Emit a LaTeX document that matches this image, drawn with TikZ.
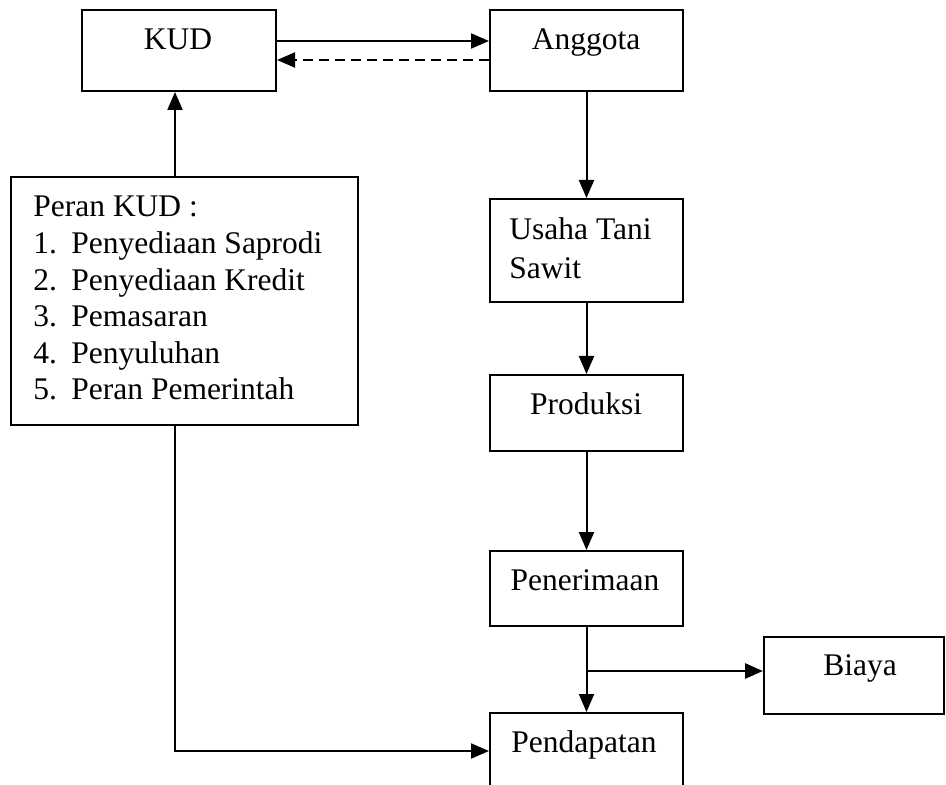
\documentclass[tikz,border=0pt]{standalone}
\usepackage{fontspec}
\setmainfont{Liberation Serif}
\usetikzlibrary{arrows.meta,fit,calc}
\begin{document}
\begin{tikzpicture}[x=0.5pt,y=-0.5pt,
  boxline/.style={draw=black,line width=1pt,inner sep=0pt},
  lbl/.style={inner sep=0pt,anchor=base,font=\fontsize{15.75}{18.3}\selectfont},
  lbll/.style={lbl,anchor=base west},
  arr/.style={line width=1pt,-{Triangle[length=9pt,width=7.5pt]}},
  ln/.style={line width=1pt}]
\useasboundingbox (0,0) rectangle (946,785);
\clip (0,0) rectangle (946,785);
\newcommand{\mybox}[5]{%
  \coordinate (#1-nw) at (#2,#3);
  \coordinate (#1-se) at (#4,#5);
  \node[boxline,fit=(#1-nw)(#1-se)] (#1) {};}
\mybox{kud}{82}{10}{276}{91}
\mybox{ang}{490}{10}{683}{91}
\mybox{peran}{11}{177}{358}{425}
\mybox{usaha}{490}{199}{683}{302}
\mybox{prod}{490}{375}{683}{451}
\mybox{pen}{490}{551}{683}{626}
\mybox{biaya}{764}{637}{944}{714}
\mybox{pend}{490}{713}{683}{840}
% texts
\node[lbl] (tkud) at (178,50) {KUD};
\node[lbl] (tang) at (586,50) {Anggota};
\node[lbll] (tp0) at (33,217) {Peran KUD :};
\foreach \n/\t [count=\i] in {1/Penyediaan Saprodi,2/Penyediaan Kredit,3/Pemasaran,4/Penyuluhan,5/Peran Pemerintah}{
  \node[lbll] (tpn\i) at (33,{217+36.6*\i}) {\n.};
  \node[lbll] (tp\i) at (71,{217+36.6*\i}) {\t};
}
\node[lbll] (tus1) at (509,240) {Usaha Tani};
\node[lbll] (tus2) at (509,279) {Sawit};
\node[lbl] (tprod) at (586,415) {Produksi};
\node[lbl] (tpen) at (585,590) {Penerimaan};
\node[lbl] (tbiaya) at (860,675) {Biaya};
\node[lbl] (tpend) at (584,752) {Pendapatan};
% connectors
\coordinate (lx) at (175,0);
\draw[arr] ([yshift=4.75pt]kud.east) -- ([yshift=4.75pt]ang.west);
\draw[arr,dashed,dash pattern=on 5pt off 3pt] ([yshift=-4.75pt]ang.west) -- ([yshift=-4.75pt]kud.east);
\draw[arr] (peran.north -| lx) -- (kud.south -| lx);
\draw[arr] (ang.south) -- (usaha.north);
\draw[arr] (usaha.south) -- (prod.north);
\draw[arr] (prod.south) -- (pen.north);
\coordinate (br) at ($(pen.south)+(0,44)$);
\draw[ln] (pen.south) -- (br);
\draw[arr] (br) -- (pend.north);
\draw[arr,line width=1.4pt] (br) -- (biaya.west |- br);
\coordinate (bl) at (175,751);
\draw[arr] (peran.south -| lx) -- (bl) -- (pend.west |- bl);
\end{tikzpicture}
\end{document}
